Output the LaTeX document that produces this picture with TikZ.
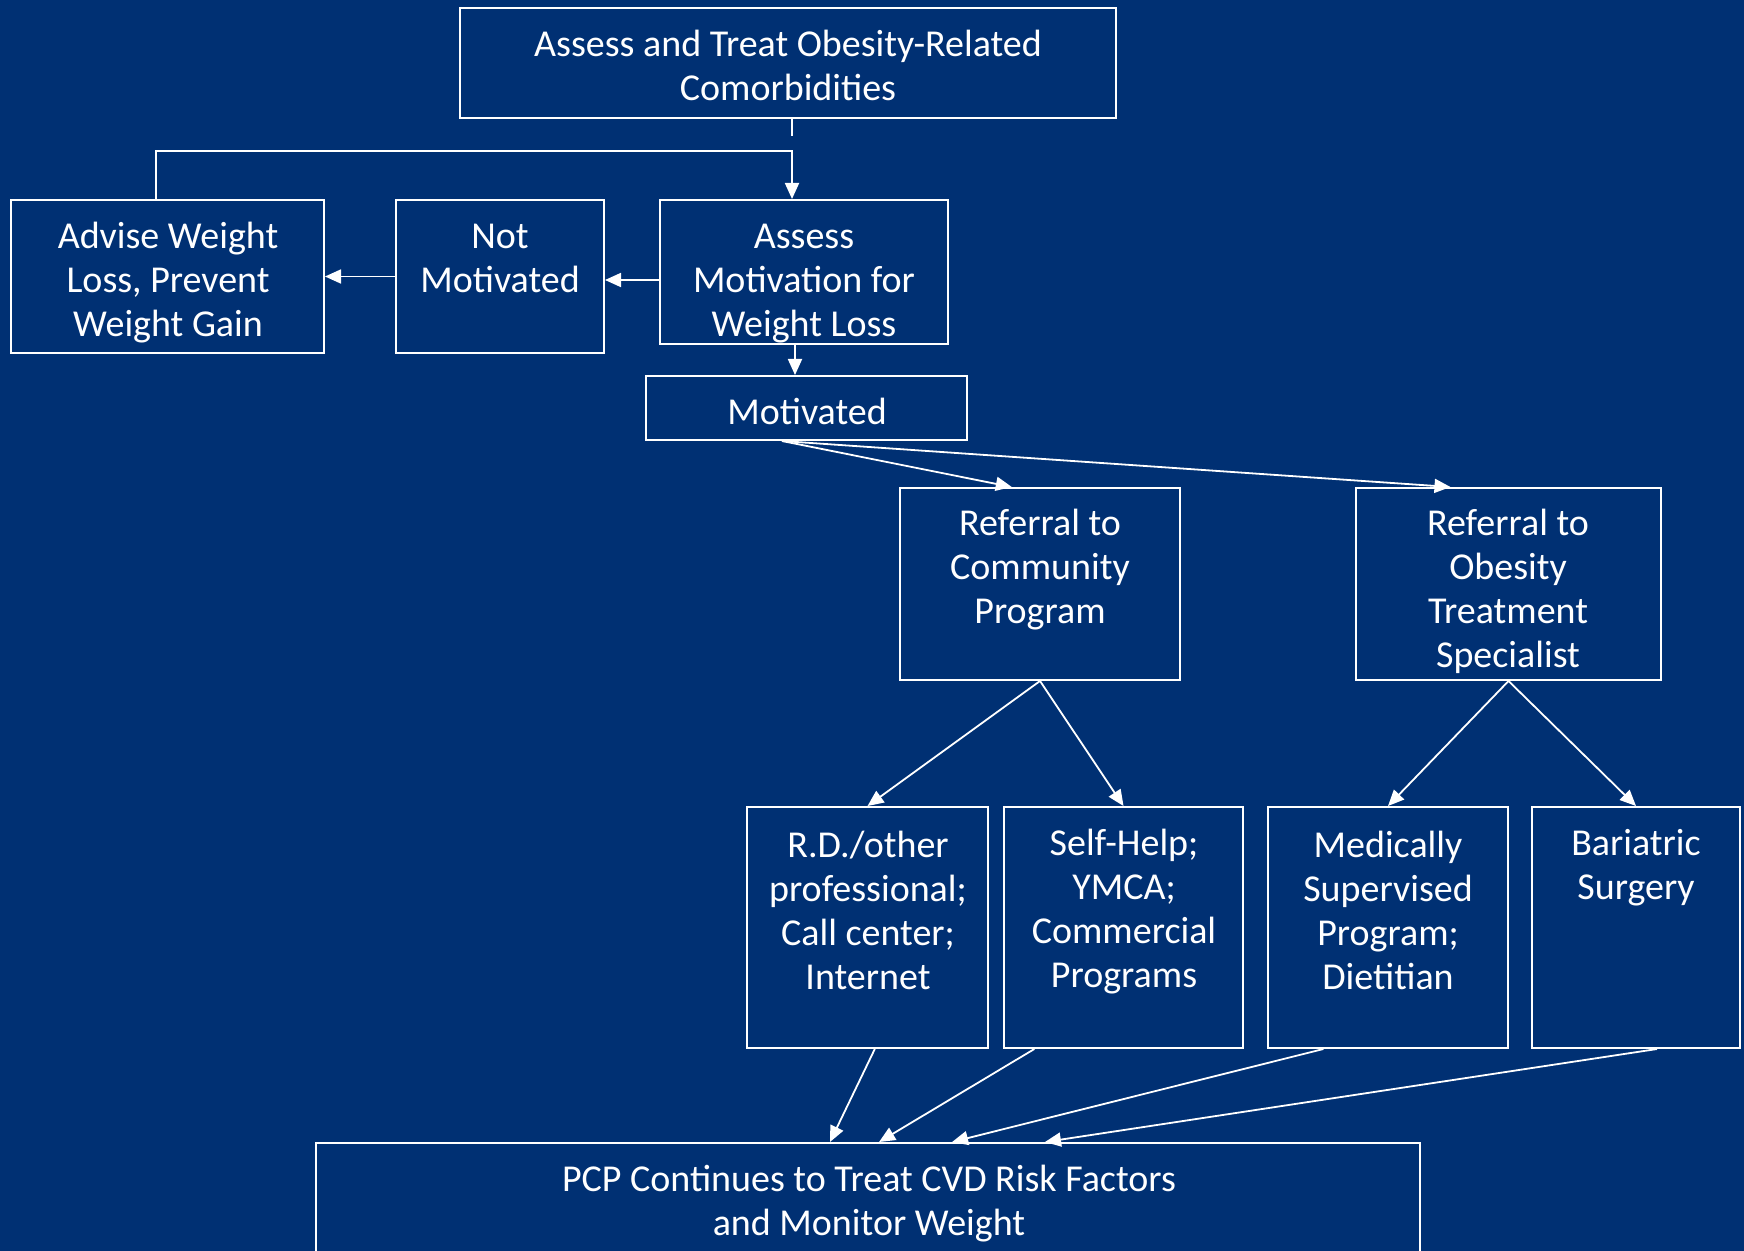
\documentclass[tikz,border=0pt]{standalone}
\usepackage{fontspec}
\setmainfont{Carlito}
\usetikzlibrary{calc,arrows.meta}
\definecolor{bg}{RGB}{0,48,115}
\begin{document}
\begin{tikzpicture}[x=0.5pt,y=-0.5pt,
  box/.style={draw=white,line width=1pt,rectangle,inner sep=0pt},
  txt/.style={text=white,align=center,font=\fontsize{19}{22}\selectfont,inner sep=0pt},
  arr/.style={draw=white,line width=0.9pt,-{Triangle[length=8pt,width=7pt]}},
  ln/.style={draw=white,line width=0.9pt}]
\fill[bg] (0,0) rectangle (1744,1251);
\useasboundingbox (0,0) rectangle (1744,1251);
\begin{scope}
\clip (0,0) rectangle (1744,1251);
% boxes
\node[box,minimum width=328pt,minimum height=55pt] (top) at (788,63) {};
\node[box,minimum width=156.5pt,minimum height=76.5pt] (advise) at (167.5,276.5) {};
\node[box,minimum width=104pt,minimum height=76.5pt] (notm) at (500,276.5) {};
\node[box,minimum width=144pt,minimum height=72pt] (assess) at (804,272) {};
\node[box,minimum width=160.5pt,minimum height=32pt] (motiv) at (806.5,408) {};
\node[box,minimum width=140pt,minimum height=96pt] (comm) at (1040,584) {};
\node[box,minimum width=152.5pt,minimum height=96pt] (obes) at (1508.5,584) {};
\node[box,minimum width=120.5pt,minimum height=120.5pt] (rd) at (867.5,927.5) {};
\node[box,minimum width=119.5pt,minimum height=120.5pt] (self) at (1123.5,927.5) {};
\node[box,minimum width=120pt,minimum height=120.5pt] (med) at (1388,927.5) {};
\node[box,minimum width=104pt,minimum height=120.5pt] (bar) at (1636,927.5) {};
\node[box,minimum width=552pt,minimum height=59.5pt] (pcp) at (868,1202.5) {};
\end{scope}
% texts
\node[txt] (ttop) at (788,65.5) {Assess and Treat Obesity-Related\\Comorbidities};
\node[txt] (tadvise) at (168,282.5) {Advise Weight\\Loss, Prevent\\Weight Gain};
\node[txt] (tnotm) at (500,258) {Not\\Motivated};
\node[txt] (tassess) at (804,283.5) {Assess\\Motivation for\\Weight Loss};
\node[txt] (tmotiv) at (807,411) {Motivated};
\node[txt] (tcomm) at (1040,570) {Referral to\\Community\\Program};
\node[txt] (tobes) at (1508,591.5) {Referral to\\Obesity\\Treatment\\Specialist};
\node[txt] (trd) at (868,910) {R.D./other\\professional;\\Call center;\\Internet};
\node[txt] (tself) at (1124,912) {Self-Help;\\YMCA;\\Commercial\\Programs};
\node[txt] (tmed) at (1388,910) {Medically\\Supervised\\Program;\\Dietitian};
\node[txt] (tbar) at (1636,867.5) {Bariatric\\Surgery};
\node[txt] (tpcp) at (869,1203.5) {PCP Continues to Treat CVD Risk Factors\\and Monitor Weight};
% connectors
\coordinate (stubend) at (792,136);
\coordinate (elbow) at (792,151);
\draw[ln] (top.south -| stubend) -- (stubend);
\coordinate (advtop) at ($(advise.north west)!0.463!(advise.north east)$);
\draw[arr] (advtop) |- (elbow) -- (elbow |- assess.north);
\draw[arr] (notm.west) -- (advise.east);
\draw[arr] ([yshift=-4pt]assess.west) -- ([yshift=-4pt]assess.west -| notm.east);
\draw[arr] ([xshift=-4.5pt]assess.south) -- ([xshift=-4.5pt]assess.south |- motiv.north);
\coordinate (mot) at ($(motiv.south west)!0.424!(motiv.south east)$);
\draw[arr] (mot) -- ($(comm.north west)!0.4!(comm.north east)$);
\draw[arr] (mot) -- ($(obes.north west)!0.311!(obes.north east)$);
\draw[arr] (comm.south) -- (rd.north);
\draw[arr] (comm.south) -- (self.north);
\draw[arr] (obes.south) -- (med.north);
\draw[arr] (obes.south) -- (bar.north);
\draw[arr] ($(rd.south west)!0.53!(rd.south east)$) -- ($(pcp.north west)!0.4656!(pcp.north east)$);
\draw[arr] ($(self.south west)!0.13!(self.south east)$) -- ($(pcp.north west)!0.51!(pcp.north east)$);
\draw[arr] ($(med.south west)!0.233!(med.south east)$) -- ($(pcp.north west)!0.576!(pcp.north east)$);
\draw[arr] ($(bar.south west)!0.6!(bar.south east)$) -- ($(pcp.north west)!0.66!(pcp.north east)$);
\end{tikzpicture}
\end{document}
